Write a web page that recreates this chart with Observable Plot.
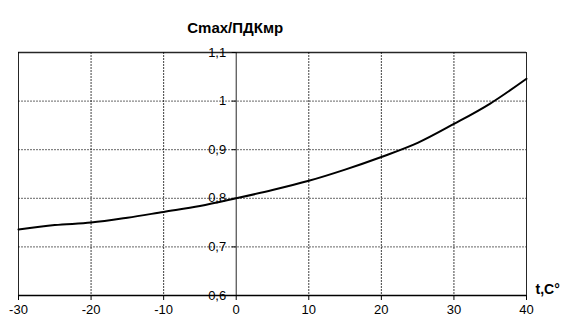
<!DOCTYPE html>
<html><head><meta charset="utf-8">
<script src="https://cdn.jsdelivr.net/npm/d3@7"></script>
<script src="https://cdn.jsdelivr.net/npm/@observablehq/plot@0.6"></script>
<style>body{margin:0;background:#fff;} svg{font-family:"Liberation Sans",Arial,sans-serif;}</style>
</head><body><div id="chart"></div>
<script>
const temps = [-30, -25, -20, -15, -10, -5, 0, 5, 10, 15, 20, 25, 30, 35, 40];
const ratio = [0.736, 0.745, 0.750, 0.760, 0.772, 0.784, 0.800, 0.817, 0.836, 0.859, 0.885, 0.914, 0.953, 0.995, 1.046];
const xTicks = [-30, -20, -10, 0, 10, 20, 30, 40];
const yTicks = [0.6, 0.7, 0.8, 0.9, 1.0, 1.1];
const yLabels = ["0,6", "0,7", "0,8", "0,9", "1", "1,1"];
const title = "Cmax/ПДКмр";
const xTitle = "t,C°";

const data = temps.map((t, i) => ({t, r: ratio[i]}));
const yt = yTicks.map((v, i) => ({v, label: yLabels[i]}));

const chart = Plot.plot({
  width: 563, height: 324,
  marginLeft: 18, marginRight: 37, marginTop: 52, marginBottom: 29,
  style: {fontFamily: "'Liberation Sans', Arial, sans-serif", fontSize: "13px", color: "#000", background: "#fff"},
  x: {domain: [-30, 40]},
  y: {domain: [0.6, 1.1], axis: null},
  marks: [
    Plot.gridX(xTicks.filter(v => v !== 0 && v !== -30 && v !== 40), {stroke: "#000", strokeOpacity: 0.75, strokeDasharray: "2,1"}),
    Plot.gridY(yTicks.filter(v => v !== 0.6 && v !== 1.1), {stroke: "#000", strokeOpacity: 0.6, strokeDasharray: "2,1"}),
    Plot.ruleY([1.1], {stroke: "#000", strokeOpacity: 0.85, strokeWidth: 1.5}),
    Plot.ruleX([-30, 40], {stroke: "#000", strokeOpacity: 0.85}),
    Plot.ruleX([0], {stroke: "#000", strokeOpacity: 0.85}),
    Plot.ruleY([0.6], {stroke: "#000", strokeWidth: 1.3}),
    Plot.ruleY(yt, {y: "v", x1: -0.55, x2: 0, stroke: "#000"}),
    Plot.text(yt, {x: 0, y: "v", text: "label", textAnchor: "end", dx: -10, fontSize: 13}),
    Plot.axisX({ticks: xTicks, tickSize: 5, tickPadding: 4, label: null, fontSize: 13, tickFormat: d => d}),
    Plot.line(data, {x: "t", y: "r", stroke: "#000", strokeWidth: 2, curve: "monotone-x"}),
    Plot.text([title], {frameAnchor: "top", x: 0, dx: -1, dy: -30, text: d => d, fontWeight: "bold", fontSize: 15}),
    Plot.text([xTitle], {frameAnchor: "bottom-right", textAnchor: "start", lineAnchor: "bottom", dx: 9, dy: -2, text: d => d, fontWeight: "bold", fontSize: 14})
  ]
});
document.getElementById("chart").append(chart);
</script>
</body></html>
